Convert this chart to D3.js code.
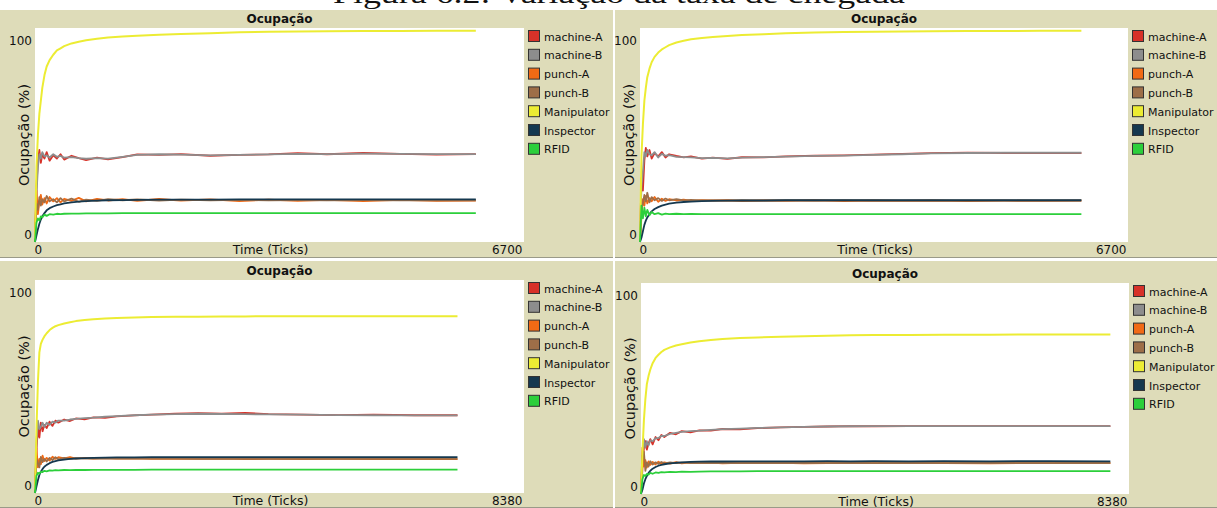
<!DOCTYPE html>
<html>
<head>
<meta charset="utf-8">
<title>Ocupação</title>
<style>
  body { margin: 0; background: #fff; }
  text { font-family: "DejaVu Sans", sans-serif; fill: #111; }
</style>
</head>
<body>
<svg id="canvas" width="1217" height="508"></svg>
<script src="https://cdn.jsdelivr.net/npm/d3@7"></script>
<script>
// series (pen) names and colours, same for all four plots
let seriesNames = ["machine-A", "machine-B", "punch-A", "punch-B", "Manipulator", "Inspector", "RFID"];
let seriesColors = ["#d73229", "#8d8d8d", "#f16a15", "#9d6e48", "#ecec33", "#15384f", "#2ccf3b"];

// ---- plot 1 (top left) ----
let p1Ticks = [0, 20, 40, 60, 80, 100, 130, 160, 200, 250, 300, 350, 400, 500, 600, 700, 850, 1000, 1200, 1400, 1700, 2000, 2400, 2800, 3200, 3600, 4000, 4500, 5000, 5500, 6040];
let p1MachineA = [0, 26, 38, 43, 37, 41, 39, 42, 38, 40.5, 39, 41, 38.5, 40.3, 39.2, 38.3, 39.4, 38.6, 39.7, 40.9, 40.7, 41.1, 40.3, 40.7, 40.9, 41.5, 41, 41.6, 41.2, 40.8, 41.1];
let p1MachineB = [0, 22, 35, 41, 39, 42, 40, 40.5, 39.5, 41, 39.8, 40.2, 39.4, 39.7, 39.2, 38.9, 39.2, 39, 39.8, 40.7, 41, 40.8, 40.5, 40.7, 40.9, 41.2, 41.1, 41.3, 41.2, 41.1, 41.1];
let p1PunchA = [0, 24, 13, 19, 22, 17.5, 20.5, 18, 21, 19, 20.5, 18.5, 20.2, 19.2, 20.6, 19, 20.2, 19.4, 20, 19.2, 20.1, 19.3, 19.9, 19.1, 19.8, 19.2, 19.7, 19.1, 19.7, 19.2, 19.3];
let p1PunchB = [0, 18, 15, 21, 17, 20, 18.5, 21.5, 19, 20, 18.5, 20.5, 19, 20.3, 18.8, 19.8, 19.2, 20, 19.5, 19.9, 19.4, 19.8, 19.5, 19.7, 19.5, 19.6, 19.5, 19.6, 19.5, 19.5, 19.5];
let p1Manipulator = [0, 35, 50, 60, 66, 72, 78, 82, 85, 87.5, 89.5, 90.5, 91.5, 92.8, 93.6, 94.3, 95, 95.6, 96, 96.4, 96.8, 97.2, 97.6, 98, 98.2, 98.4, 98.5, 98.6, 98.6, 98.7, 98.7];
let p1Inspector = [0, 3, 6, 8.5, 10.5, 12, 13.5, 14.8, 15.8, 16.6, 17.2, 17.6, 18, 18.5, 18.9, 19.1, 19.3, 19.5, 19.6, 19.7, 19.8, 19.8, 19.8, 19.9, 19.9, 19.9, 19.9, 19.9, 19.9, 19.9, 19.9];
let p1RFID = [0, 9, 11, 10, 12, 11.5, 12.8, 12.2, 13, 12.8, 13.2, 13, 13.2, 13.3, 13.3, 13.4, 13.4, 13.4, 13.5, 13.5, 13.5, 13.5, 13.5, 13.5, 13.5, 13.5, 13.5, 13.5, 13.5, 13.5, 13.5];

// ---- plot 2 (top right) ----
let p2Ticks = [0, 20, 40, 60, 80, 100, 130, 160, 200, 250, 300, 350, 400, 500, 600, 700, 850, 1000, 1200, 1400, 1700, 2000, 2400, 2800, 3200, 3600, 4000, 4500, 5000, 5500, 6060];
let p2MachineA = [0, 30, 24, 38, 44, 40, 43, 39, 41.5, 40, 42, 39.5, 41, 40.2, 39.5, 40, 39, 39.4, 38.8, 39.6, 39.5, 40, 40.3, 40.5, 40.8, 41.2, 41.5, 41.8, 41.6, 41.5, 41.5];
let p2MachineB = [0, 26, 33, 42, 40, 43, 41, 40.5, 42, 39.5, 41.2, 40.3, 40.6, 39.8, 39.7, 39.5, 39.2, 39.3, 39.1, 39.4, 39.7, 39.9, 40.2, 40.4, 40.7, 41, 41.4, 41.6, 41.7, 41.7, 41.7];
let p2PunchA = [0, 12, 20, 17, 21.5, 18, 20.5, 19, 21, 18.8, 20.2, 19.2, 20, 19.4, 19.8, 19.2, 19.6, 19.3, 19.5, 19.1, 19.4, 19.2, 19.5, 19.1, 19.4, 19.2, 19.4, 19.1, 19.3, 19.2, 19.3];
let p2PunchB = [0, 16, 18, 22, 19, 23, 18.5, 21, 19.5, 20.5, 19.2, 20.3, 19.5, 20, 19.4, 19.7, 19.4, 19.6, 19.4, 19.5, 19.4, 19.5, 19.4, 19.5, 19.4, 19.4, 19.4, 19.4, 19.4, 19.4, 19.4];
let p2Manipulator = [0, 40, 55, 66, 72, 77, 81, 84, 86.5, 88.5, 90, 91, 92, 93.2, 94, 94.7, 95.3, 95.8, 96.3, 96.7, 97.1, 97.5, 97.9, 98.1, 98.3, 98.4, 98.5, 98.6, 98.6, 98.7, 98.7];
let p2Inspector = [0, 2, 5, 8, 10, 11.5, 13, 14.3, 15.4, 16.3, 17, 17.5, 17.9, 18.4, 18.7, 18.9, 19.1, 19.2, 19.3, 19.4, 19.4, 19.5, 19.5, 19.5, 19.5, 19.5, 19.5, 19.5, 19.5, 19.5, 19.5];
let p2RFID = [0, 17, 11, 16, 12, 15, 12.5, 14, 13, 13.5, 12.8, 13.3, 13, 13.2, 13, 13.1, 13, 13, 13, 13, 13, 13, 13, 13, 13, 13, 13, 13, 13, 13, 13];

// ---- plot 3 (bottom left) ----
let p3Ticks = [0, 25, 50, 75, 100, 130, 160, 200, 250, 300, 350, 400, 500, 600, 700, 850, 1000, 1200, 1400, 1700, 2000, 2400, 2800, 3200, 3600, 4000, 4600, 5200, 5800, 6500, 7240];
let p3MachineA = [0, 20, 31, 26, 33, 29, 32, 30.5, 33.5, 31.5, 34, 33, 34.5, 33.8, 35, 34.6, 35.5, 35.3, 36, 36.4, 36.8, 37.2, 37.5, 37.3, 37.6, 37, 36.8, 36.6, 36.8, 36.5, 36.5];
let p3MachineB = [0, 24, 34, 30, 31, 33, 31, 33, 32, 33.5, 33, 34, 34, 34.5, 34.8, 35.2, 35.4, 35.8, 36.1, 36.5, 36.8, 37, 37.2, 37.1, 37, 36.9, 36.8, 36.6, 36.5, 36.4, 36.4];
let p3PunchA = [0, 21, 12, 16, 13.5, 17.5, 15, 16.5, 15.2, 17, 16, 16.8, 16.2, 16.9, 16.1, 16.5, 16.2, 16.4, 16.1, 16.3, 16, 16.2, 16, 16.1, 15.9, 16, 15.9, 16, 15.9, 15.9, 15.9];
let p3PunchB = [0, 16, 14, 12, 17, 14.5, 16, 14.8, 16.5, 15.5, 16.8, 15.8, 16.5, 16, 16.4, 16.1, 16.3, 16.2, 16.2, 16.1, 16.1, 16.1, 16, 16, 16, 16, 16, 16, 16, 16, 16];
let p3Manipulator = [0, 30, 52, 66, 70, 72, 73.5, 75, 76.5, 77.5, 78.3, 78.8, 79.6, 80.2, 80.7, 81.2, 81.6, 81.9, 82.2, 82.4, 82.6, 82.7, 82.8, 82.9, 82.9, 83, 83, 83, 83, 83, 83];
let p3Inspector = [0, 3, 6, 8.5, 10, 11.3, 12.3, 13.2, 14, 14.6, 15, 15.3, 15.7, 16, 16.2, 16.4, 16.5, 16.6, 16.7, 16.7, 16.8, 16.8, 16.8, 16.8, 16.8, 16.8, 16.8, 16.8, 16.8, 16.8, 16.8];
let p3RFID = [0, 8, 9.5, 9, 10, 9.8, 10.4, 10.2, 10.6, 10.5, 10.7, 10.6, 10.8, 10.7, 10.8, 10.8, 10.9, 10.9, 10.9, 10.9, 11, 11, 11, 11, 11, 11, 11, 11, 11, 11, 11];

// ---- plot 4 (bottom right) ----
let p4Ticks = [0, 25, 50, 75, 100, 130, 160, 200, 250, 300, 350, 400, 500, 600, 700, 850, 1000, 1200, 1400, 1700, 2000, 2400, 2800, 3200, 3600, 4000, 4600, 5200, 6000, 7000, 8060];
let p4MachineA = [0, 12, 22, 25, 21, 24, 26, 23.5, 27, 25.5, 28, 27, 29, 28.3, 29.8, 29.2, 30.2, 30, 30.8, 30.6, 31.2, 31.6, 31.8, 32, 32.2, 32.1, 32.2, 32.2, 32.2, 32.2, 32.2];
let p4MachineB = [0, 18, 26, 22, 25, 23, 25.5, 25, 26.5, 26.5, 27.5, 27.5, 28.5, 29, 29.4, 29.8, 30, 30.4, 30.7, 31, 31.3, 31.6, 31.8, 32, 32.1, 32.2, 32.2, 32.2, 32.2, 32.2, 32.2];
let p4PunchA = [0, 22, 13, 16, 12.5, 15.5, 13.8, 15.2, 14, 15.3, 14.2, 15, 14.4, 15.1, 14.5, 15, 14.6, 14.9, 14.5, 14.8, 14.6, 14.8, 14.5, 14.7, 14.6, 14.7, 14.6, 14.7, 14.5, 14.7, 14.6];
let p4PunchB = [0, 18, 20, 11, 15, 13, 15.5, 14, 15, 14.3, 15.2, 14.5, 15, 14.6, 14.9, 14.7, 14.8, 14.7, 14.8, 14.7, 14.7, 14.7, 14.7, 14.7, 14.7, 14.7, 14.7, 14.7, 14.7, 14.7, 14.7];
let p4Manipulator = [0, 20, 35, 45, 52, 56, 59, 62, 64.5, 66, 67.3, 68.3, 69.5, 70.4, 71, 71.8, 72.4, 73, 73.5, 73.9, 74.2, 74.5, 74.8, 75, 75.2, 75.3, 75.4, 75.5, 75.5, 75.6, 75.6];
let p4Inspector = [0, 2, 5, 7, 8.5, 10, 11, 12, 12.8, 13.4, 13.8, 14.1, 14.5, 14.8, 15, 15.2, 15.3, 15.4, 15.4, 15.5, 15.5, 15.5, 15.5, 15.6, 15.5, 15.6, 15.5, 15.6, 15.5, 15.6, 15.5];
let p4RFID = [0, 7, 9, 8.5, 9.5, 9.2, 10, 9.6, 10.2, 10, 10.4, 10.2, 10.5, 10.4, 10.6, 10.5, 10.6, 10.7, 10.7, 10.7, 10.8, 10.8, 10.8, 10.8, 10.8, 10.8, 10.8, 10.8, 10.8, 10.8, 10.8];

let xMaxLabels = [6700, 6700, 8380, 8380];
let yRange = [0, 100];

// panel boxes (widget) and plot areas, in page pixels
let panels = [
  { box: [0, 10, 613, 248], plot: [35, 28, 524, 242], xMax: xMaxLabels[0], ticks: p1Ticks,
    series: [p1MachineA, p1MachineB, p1PunchA, p1PunchB, p1Manipulator, p1Inspector, p1RFID] },
  { box: [615, 10, 602, 248], plot: [640, 28, 1128, 242], xMax: xMaxLabels[1], ticks: p2Ticks,
    series: [p2MachineA, p2MachineB, p2PunchA, p2PunchB, p2Manipulator, p2Inspector, p2RFID] },
  { box: [0, 261, 613, 247], plot: [35, 280, 524, 493], xMax: xMaxLabels[2], ticks: p3Ticks,
    series: [p3MachineA, p3MachineB, p3PunchA, p3PunchB, p3Manipulator, p3Inspector, p3RFID] },
  { box: [615, 261, 602, 247], plot: [641, 283, 1129, 494], xMax: xMaxLabels[3], ticks: p4Ticks,
    series: [p4MachineA, p4MachineB, p4PunchA, p4PunchB, p4Manipulator, p4Inspector, p4RFID] }
];

let svg = d3.select("#canvas");

// caption of the figure, mostly cut off at the top of the picture
svg.append("text")
  .attr("x", 333).attr("y", 3)
  .attr("textLength", 572).attr("lengthAdjust", "spacingAndGlyphs")
  .style("font-family", "'Liberation Serif', 'DejaVu Serif', serif")
  .style("font-size", "28px")
  .text("Figura 6.2: Variação da taxa de chegada");

panels.forEach(drawPanel);

function drawPanel(p) {
  let g = svg.append("g");
  let [left, top, right, bottom] = p.plot;

  g.append("rect")
    .attr("x", p.box[0]).attr("y", p.box[1])
    .attr("width", p.box[2]).attr("height", p.box[3])
    .attr("fill", "#dedcb9");
  g.append("line")
    .attr("x1", p.box[0]).attr("x2", p.box[0] + p.box[2])
    .attr("y1", p.box[1] + p.box[3] - 0.5).attr("y2", p.box[1] + p.box[3] - 0.5)
    .attr("stroke", "#9a9a88");

  g.append("rect")
    .attr("x", left).attr("y", top)
    .attr("width", right - left).attr("height", bottom - top)
    .attr("fill", "#fff");

  let x = d3.scaleLinear().domain([0, p.xMax]).range([left, right]);
  let y = d3.scaleLinear().domain(yRange).range([bottom, top]);

  // title
  g.append("text")
    .attr("x", (left + right) / 2).attr("y", top - 5)
    .attr("text-anchor", "middle")
    .style("font-size", "12px").style("font-weight", "bold")
    .text("Ocupação");

  // axes: only min and max labels, as in NetLogo
  let xAxis = g.append("g")
    .attr("transform", "translate(0," + bottom + ")")
    .call(d3.axisBottom(x).tickValues([0, p.xMax]).tickSize(0).tickFormat(d3.format("d")));
  xAxis.select(".domain").remove();
  xAxis.selectAll("text")
    .attr("y", 0).attr("dy", "11.5px")
    .style("font-size", "12px").style("font-family", "'DejaVu Sans', sans-serif")
    .attr("fill", "#111")
    .attr("text-anchor", (d) => d === 0 ? "start" : "end")
    .attr("dx", (d) => d === 0 ? "-1px" : "-2px");

  let yAxis = g.append("g")
    .attr("transform", "translate(" + left + ",0)")
    .call(d3.axisLeft(y).tickValues(yRange).tickSize(0).tickPadding(3));
  yAxis.select(".domain").remove();
  yAxis.selectAll("text")
    .style("font-size", "12px").style("font-family", "'DejaVu Sans', sans-serif")
    .attr("fill", "#111")
    .attr("dy", (d) => d === 0 ? "-4px" : "16px");

  // axis titles
  g.append("text")
    .attr("transform", "translate(" + (left - 6) + "," + ((top + bottom) / 2) + ") rotate(-90)")
    .attr("text-anchor", "middle")
    .style("font-size", "14.5px")
    .text("Ocupação (%)");
  g.append("text")
    .attr("x", (left + right) / 2 - 9).attr("y", bottom + 11.5)
    .attr("text-anchor", "middle")
    .style("font-size", "12.5px")
    .text("Time (Ticks)");

  // pens
  let line = d3.line()
    .x((d) => x(d[0]))
    .y((d) => y(d[1]));

  p.series.forEach(function(vals, i) {
    let pts = p.ticks.map((t, k) => [t, vals[k]]);
    g.append("path")
      .datum(pts)
      .attr("fill", "none")
      .attr("stroke", seriesColors[i])
      .attr("stroke-width", i === 4 ? 2 : 1.8)
      .attr("stroke-linejoin", "round")
      .attr("d", line);
  });

  // legend
  let leg = g.append("g")
    .attr("transform", "translate(" + (right + 4) + "," + (top + 2) + ")");
  let items = leg.selectAll("g").data(seriesNames).enter()
    .append("g")
    .attr("transform", (d, i) => "translate(0," + (i * 18.8) + ")");
  items.append("rect")
    .attr("x", 0.5).attr("y", 0.5)
    .attr("width", 11).attr("height", 11)
    .attr("fill", (d, i) => seriesColors[i])
    .attr("stroke", "#333");
  items.append("text")
    .attr("x", 16).attr("y", 10.5)
    .style("font-size", "11px")
    .text((d) => d);
}
</script>
</body>
</html>
